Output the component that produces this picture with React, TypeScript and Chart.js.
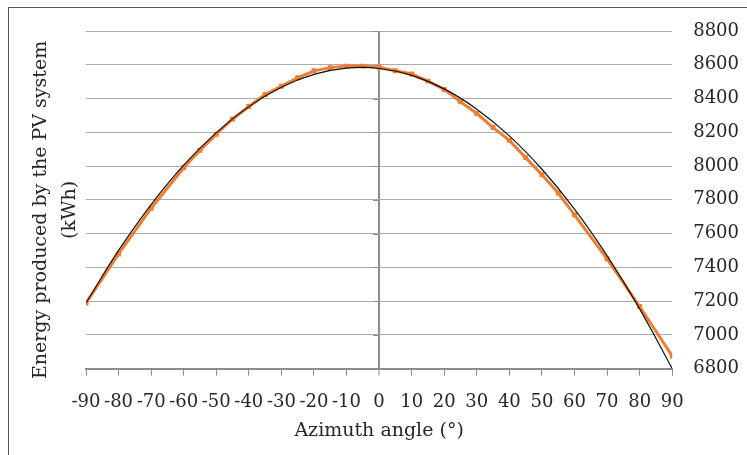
import React, { useEffect, useRef } from 'react';
import { Chart, registerables } from 'chart.js';

Chart.register(...registerables);

// Azimuth angle (°) of each simulated orientation
const angles = [-90, -80, -70, -60, -55, -50, -45, -40, -35, -30, -25, -20, -15, -10, -5, 0, 5, 10, 15, 20, 25, 30, 35, 40, 45, 50, 55, 60, 70, 80, 90];
// Energy produced by the PV system (kWh)
const energy = [7188, 7479, 7750, 7990, 8093, 8188, 8279, 8353, 8424, 8473, 8523, 8564, 8583, 8592, 8592, 8585, 8564, 8545, 8503, 8454, 8380, 8311, 8228, 8152, 8050, 7949, 7840, 7711, 7450, 7168, 6875];

// Trendline (black curve) every 10°
const trendAngles = [-90, -80, -70, -60, -50, -40, -30, -20, -10, 0, 10, 20, 30, 40, 50, 60, 70, 80, 90];
const trendEnergy = [7190, 7500, 7772, 8005, 8198, 8352, 8467, 8543, 8580, 8578, 8537, 8457, 8337, 8179, 7981, 7745, 7469, 7154, 6800];

const xTitle = 'Azimuth angle (°)';
const yTitle = ['Energy produced by the PV system', '(kWh)'];

const FONT = "'DejaVu Serif', serif";
const AXIS_GRAY = '#8c8c8c';
const TEXT = '#262626';

const zeroAxisTicks = {
  id: 'zeroAxisTicks',
  beforeDatasetsDraw(chart: any) {
    const { ctx, scales } = chart;
    const x0 = scales.x.getPixelForValue(0);
    ctx.save();
    ctx.strokeStyle = AXIS_GRAY;
    ctx.lineWidth = 1;
    scales.y.ticks.forEach((t: any) => {
      const y = Math.round(scales.y.getPixelForValue(t.value)) + 0.5;
      ctx.beginPath();
      ctx.moveTo(x0 - 6, y);
      ctx.lineTo(x0, y);
      ctx.stroke();
    });
    ctx.restore();
  },
};

export default function App() {
  const ref = useRef<HTMLCanvasElement | null>(null);

  useEffect(() => {
    if (!ref.current) return;
    const chart = new Chart(ref.current, {
      type: 'line',
      data: {
        datasets: [
          {
            label: 'Trend',
            data: trendAngles.map((a, i) => ({ x: a, y: trendEnergy[i] })),
            borderColor: '#111111',
            borderWidth: 1.2,
            pointRadius: 0,
            tension: 0.4,
            fill: false,
            order: 0,
          },
          {
            label: 'Energy',
            data: angles.map((a, i) => ({ x: a, y: energy[i] })),
            borderColor: '#ED7D31',
            backgroundColor: '#ED7D31',
            borderWidth: 3,
            pointStyle: 'rect',
            pointRadius: 3.5,
            pointBorderWidth: 0,
            tension: 0,
            fill: false,
            order: 1,
          },
        ],
      },
      options: {
        animation: false,
        responsive: false,
        maintainAspectRatio: false,
        layout: { padding: { left: 18, right: 8, top: 23, bottom: 13 } },
        plugins: { legend: { display: false }, tooltip: { enabled: false } },
        scales: {
          x: {
            type: 'linear',
            min: -90,
            max: 90,
            ticks: {
              stepSize: 10,
              autoSkip: false,
              maxRotation: 0,
              padding: 16,
              color: TEXT,
              font: { family: FONT, size: 18 },
              callback: (v: any) => String(v),
            },
            grid: {
              color: (c: any) => (c.tick && c.tick.value === 0 ? AXIS_GRAY : 'rgba(0,0,0,0)'),
              lineWidth: (c: any) => (c.tick && c.tick.value === 0 ? 2 : 1),
              tickColor: AXIS_GRAY,
              tickWidth: 1,
              tickLength: 7,
            },
            border: { display: true, color: AXIS_GRAY, width: 2 },
            title: {
              display: true,
              text: xTitle,
              color: TEXT,
              font: { family: FONT, size: 19 },
              padding: { top: -10, bottom: 0 },
            },
          },
          y: {
            type: 'linear',
            position: 'right',
            min: 6800,
            max: 8800,
            ticks: {
              stepSize: 200,
              padding: 0,
              color: TEXT,
              font: { family: FONT, size: 18 },
              callback: (v: any) => String(v),
            },
            grid: {
              color: '#ababab',
              lineWidth: 1,
              drawTicks: true,
              tickLength: 21,
              tickColor: 'rgba(0,0,0,0)',
            },
            border: { display: false },
          },
          yTitleAxis: {
            type: 'linear',
            position: 'left',
            stack: 'ytitle',
            stackWeight: 0.94,
            min: 0,
            max: 1,
            ticks: { display: false },
            grid: { display: false, drawTicks: false },
            border: { display: false },
            title: {
              display: true,
              text: yTitle,
              color: TEXT,
              font: { family: FONT, size: 19, lineHeight: 1.5 },
              padding: { top: 0, bottom: 2 },
            },
          },
          ySpacer: {
            type: 'linear',
            position: 'left',
            stack: 'ytitle',
            stackWeight: 0.06,
            min: 0,
            max: 1,
            ticks: { display: false },
            grid: { display: false, drawTicks: false },
            border: { display: false },
          },
        },
      } as any,
      plugins: [zeroAxisTicks],
    });
    return () => chart.destroy();
  }, []);

  return (
    <div
      style={{
        position: 'absolute',
        left: 8,
        top: 7,
        width: 739,
        height: 448,
        borderLeft: '1px solid #595959',
        borderTop: '1px solid #595959',
        background: '#fff',
      }}
    >
      <canvas ref={ref} width={738} height={447} style={{ display: 'block' }} />
    </div>
  );
}
